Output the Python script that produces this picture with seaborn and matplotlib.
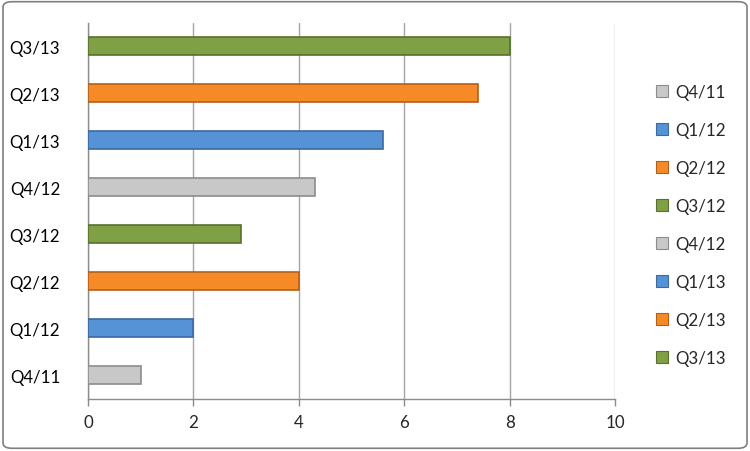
import matplotlib
matplotlib.use('Agg')
import matplotlib.pyplot as plt
from matplotlib.lines import Line2D
from matplotlib.patches import FancyBboxPatch
import seaborn as sns
import pandas as pd

# data
quarters = ['Q4/11', 'Q1/12', 'Q2/12', 'Q3/12', 'Q4/12', 'Q1/13', 'Q2/13', 'Q3/13']
values = [1.0, 2.0, 4.0, 2.9, 4.3, 5.6, 7.4, 8.0]
bar_colors = ['#C8C8C8', '#5592D6', '#F58A26', '#80A045',
              '#C8C8C8', '#5592D6', '#F58A26', '#80A045']
edge_colors = ['#8C8C8C', '#3A6A9E', '#B0601C', '#58702C',
               '#8C8C8C', '#3A6A9E', '#B0601C', '#58702C']
x_ticks = [0, 2, 4, 6, 8, 10]

df = pd.DataFrame({'quarter': quarters, 'value': values})
palette = dict(zip(quarters, bar_colors))
edges = dict(zip(quarters, edge_colors))

sns.set_style('white')
plt.rcParams['font.family'] = ['Lato', 'DejaVu Sans']

fig = plt.figure(figsize=(7.5, 4.52), dpi=100)
ax = fig.add_axes([0.1173, 0.116, 0.7027, 0.832])

order = quarters[::-1]
sns.barplot(data=df, y='quarter', x='value', hue='quarter', order=order,
            hue_order=order, palette=palette, width=0.38, legend=False,
            dodge=False, saturation=1, ax=ax, zorder=3)

# darker outline per bar, like the bevelled Excel bars
for patch, q in zip(ax.patches, order):
    patch.set_edgecolor(edges[q])
    patch.set_linewidth(1.2)

ax.set_xlim(0, 10)
ax.set_ylim(len(quarters) - 0.5, -0.5)
ax.set_xticks(x_ticks)
ax.set_xlabel('')
ax.set_ylabel('')
ax.grid(axis='x', color='#A6A6A6', linewidth=1, zorder=0)
ax.grid(axis='y', visible=False)

for side in ['top', 'right']:
    ax.spines[side].set_visible(False)
for side in ['left', 'bottom']:
    ax.spines[side].set_color('#8C8C8C')
    ax.spines[side].set_linewidth(1)

ax.set_yticks([i - 0.5 for i in range(len(quarters) + 1)], minor=True)
ax.tick_params(axis='y', which='major', length=0, pad=20, labelsize=12.2,
               labelcolor='#000000')
ax.tick_params(axis='y', which='minor', length=5, color='#8C8C8C', width=1)
ax.tick_params(axis='x', which='major', length=5, color='#8C8C8C', width=1,
               direction='out', labelsize=12.2, pad=6)
ax.tick_params(axis='x', bottom=True)

handles = [Line2D([0], [0], marker='s', linestyle='', markersize=8,
                  markerfacecolor=palette[q], markeredgecolor=edges[q],
                  markeredgewidth=0.8) for q in quarters]
fig.legend(handles, quarters, loc='center left', bbox_to_anchor=(0.862, 0.5),
           frameon=False, fontsize=12.2, handlelength=0.8, handletextpad=0.4,
           labelspacing=1.3, borderpad=0)

border = FancyBboxPatch((0.004, 0.006), 0.992, 0.988,
                        boxstyle='round,pad=0,rounding_size=0.012',
                        transform=fig.transFigure, facecolor='none',
                        edgecolor='#7F7F7F', linewidth=1.2)
fig.patches.append(border)

fig.savefig('out.png', dpi=100)
